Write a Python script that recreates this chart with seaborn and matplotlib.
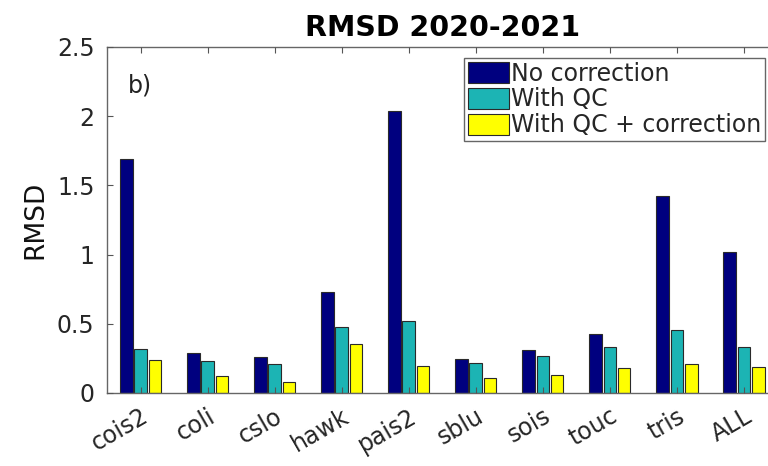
import matplotlib
matplotlib.use("Agg")
import matplotlib.pyplot as plt
import seaborn as sns
import pandas as pd

stations = ["cois2", "coli", "cslo", "hawk", "pais2", "sblu", "sois", "touc", "tris", "ALL"]
no_correction = [1.69, 0.29, 0.262, 0.728, 2.04, 0.248, 0.308, 0.424, 1.426, 1.019]
with_qc = [0.316, 0.233, 0.21, 0.477, 0.52, 0.217, 0.27, 0.33, 0.453, 0.33]
with_qc_corr = [0.238, 0.123, 0.077, 0.356, 0.195, 0.106, 0.13, 0.183, 0.21, 0.188]
series_names = ["No correction", "With QC", "With QC + correction"]
colors = ["#00007f", "#1cb4b4", "#ffff00"]
yticks = [0, 0.5, 1, 1.5, 2, 2.5]
ytick_labels = ["0", "0.5", "1", "1.5", "2", "2.5"]

rows = []
for name, vals in zip(series_names, [no_correction, with_qc, with_qc_corr]):
    for st, v in zip(stations, vals):
        rows.append({"station": st, "series": name, "RMSD": v})
df = pd.DataFrame(rows)

sns.set_style("white")
plt.rcParams["font.family"] = ["DejaVu Sans"]

fig = plt.figure(figsize=(7.68, 4.66), dpi=100)
ax = fig.add_axes([107 / 768, 1 - 393 / 466, 670.5 / 768, (393 - 47) / 466])

sns.barplot(data=df, x="station", y="RMSD", hue="series", order=stations,
            hue_order=series_names, palette=colors, width=0.64, gap=0.12,
            edgecolor="#2a2a2a", linewidth=0.8, saturation=1, ax=ax, legend=True)

ax.set_xlim(-0.5, 9.5)
ax.set_ylim(0, 2.5)
ax.set_yticks(yticks)
ax.set_yticklabels(ytick_labels, fontsize=17, color="#262626")
ax.set_xticks(range(len(stations)))
ax.set_xticklabels(stations, fontsize=17, color="#262626", rotation=30,
                   ha="right", rotation_mode="anchor")
ax.set_axisbelow(False)
ax.tick_params(axis="both", direction="in", length=4, width=0.8, color="#555555",
               top=True, bottom=True, left=True, right=False)
ax.tick_params(axis="y", pad=9)
ax.tick_params(axis="x", pad=8)
for side in ["left", "bottom", "top"]:
    ax.spines[side].set_color("#666666")
    ax.spines[side].set_linewidth(1.0)
ax.spines["right"].set_visible(False)

ax.set_xlabel("")
ax.set_ylabel("RMSD", fontsize=19, color="#111111", labelpad=6)
ax.set_title("RMSD 2020-2021", fontsize=20.5, fontweight="heavy", pad=8, color="black")

ax.text(128 / 768, 1 - 93 / 466, "b)", transform=fig.transFigure, fontsize=17,
        color="#222222", ha="left", va="baseline")

handles, labels = ax.get_legend_handles_labels()
ax.legend(handles, labels, loc="upper right", bbox_to_anchor=(765 / 768, 1 - 58 / 466),
          bbox_transform=fig.transFigure, borderaxespad=0, fontsize=17,
          handlelength=1.75, handleheight=1.0, handletextpad=0.1, labelspacing=0.08,
          borderpad=0.15, frameon=True, fancybox=False, edgecolor="#666666",
          framealpha=1, title=None)

fig.savefig("out.png", dpi=100)
